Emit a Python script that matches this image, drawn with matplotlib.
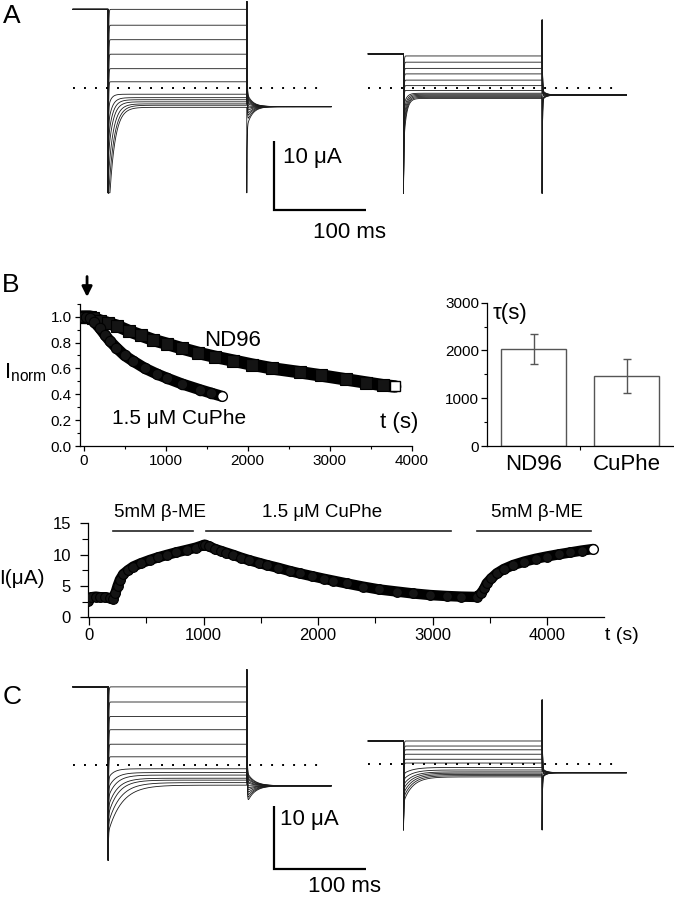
import numpy as np
import matplotlib
matplotlib.use('Agg')
import matplotlib.pyplot as plt
from matplotlib.ticker import FixedLocator, FormatStrFormatter

plt.rcParams['font.family'] = ['Liberation Sans', 'DejaVu Sans']
plt.rcParams['mathtext.fontset'] = 'custom'
plt.rcParams['mathtext.rm'] = 'Liberation Sans'
plt.rcParams['axes.linewidth'] = 0.9

# ---------------- data ----------------
# voltage-clamp protocol (ms)
T_ON, T_OFF, T_END = 38.5, 190.0, 282.0
DOT_END = 270.0

# Panel A left
A1_hold = 11.4
A1_levels = [11.4, 9.1, 7.0, 4.9, 2.8, 0.9, -0.9, -1.4, -1.7, -2.0, -2.3, -2.5, -2.8]
A1_slow_amp = [0, 0, 0, 0, 0, 0, -2, -4, -6, -8, -11, -14, -17]
A1_slow_tau = [1, 1, 1, 1, 1, 1, 3, 4, 4.5, 5, 5.5, 6, 6]
A1_tail_start = [-0.7, -1.0, -1.3, -1.6, -1.9, -2.2, -2.6, -3.0, -3.4, -3.9, -4.4, -5.0, -5.6]
A1_tail_end = -2.7

# Panel A right
A2_hold = 4.9
A2_levels = [4.6, 3.7, 2.8, 2.0, 1.1, 0.3, -0.4, -0.8, -0.95, -1.1, -1.25, -1.4, -1.55]
A2_slow_amp = [0, 0, 0, 0, 0, 0, 0, -2, -3, -4, -5, -6, -7]
A2_slow_tau = [1, 1, 1, 1, 1, 1, 1, 3, 3, 3, 3, 3, 3]
A2_tail_start = [-0.3, -0.45, -0.55, -0.65, -0.75, -0.85, -1.0, -1.15, -1.3, -1.45, -1.6, -1.7, -1.8]
A2_tail_end = -1.06

# Panel C left
C1_hold = 12.4
C1_levels = [12.4, 10.0, 7.7, 5.6, 3.3, 1.3, -0.6, -1.2, -1.6, -2.1, -2.4, -2.8, -3.2]
C1_slow_amp = [0, 0, 0, 0, 0, 0, -1.5, -2.5, -3.5, -4.5, -5.5, -6.5, -7.5]
C1_slow_tau = [1, 1, 1, 1, 1, 1, 6, 8, 9, 10, 11, 13, 15]
C1_tail_start = [-1.1, -1.4, -1.8, -2.1, -2.5, -2.8, -3.3, -3.7, -4.1, -4.6, -5.1, -5.6, -6.1]
C1_tail_end = -3.3

# Panel C right
C2_hold = 3.7
C2_levels = [3.7, 2.9, 2.3, 1.6, 0.8, 0.2, -0.5, -0.9, -1.2, -1.4, -1.6, -1.8, -2.0]
C2_slow_amp = [0, 0, 0, 0, 0, 0, -1, -1.5, -2, -2.5, -3, -3.5, -4]
C2_slow_tau = [1, 1, 1, 1, 1, 1, 10, 10, 10, 10, 10, 10, 10]
C2_tail_start = [-0.6, -0.75, -0.85, -1.0, -1.1, -1.2, -1.4, -1.55, -1.7, -1.85, -2.0, -2.1, -2.2]
C2_tail_end = -1.33

# Panel B: normalized current decay
nd96_t = [-20, 10, 40, 80, 120, 200, 300, 405, 550, 700, 850, 1015, 1200, 1400, 1600,
          1826, 2050, 2300, 2640, 2900, 3200, 3450, 3650, 3800]
nd96_i = [1.0, 1.0, 1.0, 1.0, 0.99, 0.97, 0.95, 0.93, 0.89, 0.855, 0.82, 0.79, 0.755, 0.72, 0.69,
          0.66, 0.63, 0.60, 0.57, 0.545, 0.515, 0.49, 0.47, 0.46]
cuphe_t = [-20, 30, 80, 130, 200, 260, 323, 400, 500, 608, 750, 900, 1015, 1200, 1420, 1550, 1685]
cuphe_i = [1.0, 1.0, 0.99, 0.96, 0.91, 0.86, 0.81, 0.76, 0.70, 0.655, 0.60, 0.555, 0.525, 0.48,
           0.435, 0.41, 0.385]

# Panel B: time constants
tau_labels = ['ND96', 'CuPhe']
tau_means = [2030, 1470]
tau_err = [305, 350]

# Panel B lower: current vs time
cur_t = [-5, 20, 60, 100, 140, 180, 212, 230, 250, 270, 300, 340, 387, 450, 532, 600, 678, 760,
         852, 930, 997, 1010, 1050, 1100, 1150, 1200, 1260, 1330, 1400, 1480, 1550, 1650, 1750,
         1840, 1950, 2050, 2130, 2250, 2390, 2530, 2690, 2830, 2980, 3120, 3250, 3383, 3420,
         3450, 3470, 3510, 3558, 3620, 3703, 3800, 3900, 3994, 4100, 4200, 4300, 4400]
cur_i = [2.6, 3.2, 3.3, 3.2, 3.2, 3.1, 3.0, 3.8, 5.0, 6.0, 6.9, 7.5, 8.1, 8.6, 9.15, 9.55, 9.95,
         10.35, 10.75, 11.1, 11.5, 11.6, 11.3, 10.9, 10.6, 10.3, 9.95, 9.5, 9.1, 8.7, 8.35, 7.9,
         7.4, 7.0, 6.55, 6.15, 5.85, 5.4, 4.9, 4.45, 4.1, 3.8, 3.55, 3.4, 3.3, 3.25, 3.8, 4.6,
         5.4, 6.2, 7.0, 7.7, 8.35, 8.9, 9.35, 9.7, 10.05, 10.35, 10.65, 10.9]
app_labels = ['5mM \u03b2-ME', '1.5 \u03bcM CuPhe', '5mM \u03b2-ME']
app_start = [212, 1021, 3383]
app_end = [910, 3156, 4378]

# ---------------- figure ----------------
W, H = 674, 899
fig = plt.figure(figsize=(W / 100, H / 100), dpi=100)


def box(x0, y0, x1, y1):
    return fig.add_axes([x0 / W, 1 - y1 / H, (x1 - x0) / W, (y1 - y0) / H])


def trace_axes(x0, y0, x1, y1, t0_px, zero_px, px_ms, px_ua):
    ax = box(x0, y0, x1, y1)
    ax.set_xlim((x0 - t0_px) / px_ms, (x1 - t0_px) / px_ms)
    ax.set_ylim((zero_px - y1) / px_ua, (zero_px - y0) / px_ua)
    ax.axis('off')
    ax.patch.set_visible(False)
    return ax


def draw_traces(ax, hold, levels, slow_amp, slow_tau, tail_start, tail_end, tail_tau,
                spike_on, spike_up, spike_down):
    t = np.arange(0, T_END + 0.05, 0.1)
    for L, B, tau, Q in zip(levels, slow_amp, slow_tau, tail_start):
        I = np.full_like(t, hold)
        m = (t >= T_ON) & (t < T_OFF)
        dt = t[m] - T_ON
        fast = min(0.0, spike_on - L - B)
        I[m] = np.clip(L + B * np.exp(-dt / tau) + fast * np.exp(-dt / 0.3), spike_on, None)
        m2 = t >= T_OFF
        dt2 = t[m2] - T_OFF
        sp = spike_up if L > tail_end else spike_down
        I[m2] = tail_end + (Q - tail_end) * np.exp(-dt2 / tail_tau) + (sp - Q) * np.exp(-dt2 / 0.3)
        ax.plot(t, I, color='#1a1a1a', lw=0.6, zorder=2)
    ax.plot([0, DOT_END], [0, 0], color='k', lw=1.4, linestyle=(0, (1, 4.66)),
            dash_capstyle='butt', zorder=3)


def scale_bar(ax, t, bottom, ua_text_xy, ms_text_xy):
    ax.plot([t, t, t + 100], [bottom + 10, bottom, bottom], color='k', lw=1.6,
            solid_joinstyle='miter', solid_capstyle='butt', clip_on=False)
    ax.text(ua_text_xy[0], ua_text_xy[1], '10 \u03bcA', fontsize=16, ha='left', va='center')
    ax.text(ms_text_xy[0], ms_text_xy[1], '100 ms', fontsize=16, ha='center', va='center')


def band(ax, x, y, marker, lw=7.5, ms=7):
    ax.plot(x, y, color='k', lw=lw, solid_capstyle='round', zorder=2)
    ax.plot(x[:-1], y[:-1], marker, ms=ms, mfc='#141414', mec='k', mew=0.8, zorder=3)
    ax.plot(x[-1:], y[-1:], marker, ms=7, mfc='white', mec='k', mew=1.0, zorder=4)


PX_MS = 0.915
# Panel A
axA1 = trace_axes(60, 0, 420, 250, 73, 88, PX_MS, 6.9)
draw_traces(axA1, A1_hold, A1_levels, A1_slow_amp, A1_slow_tau, A1_tail_start, A1_tail_end, 6,
            -15.2, 12.5, -15.2)
scale_bar(axA1, 220, -17.7, (229.5, -10.0), (302.7, -20.9))
axA2 = trace_axes(360, 0, 674, 250, 368.3, 87.7, PX_MS, 6.9)
draw_traces(axA2, A2_hold, A2_levels, A2_slow_amp, A2_slow_tau, A2_tail_start, A2_tail_end, 4,
            -15.3, 9.8, -15.3)

# Panel C
axC1 = trace_axes(60, 640, 420, 899, 73, 765, PX_MS, 6.3)
draw_traces(axC1, C1_hold, C1_levels, C1_slow_amp, C1_slow_tau, C1_tail_start, C1_tail_end, 8,
            -15.1, 15.1, -15.1)
scale_bar(axC1, 220, -16.56, (226, -8.7), (297, -19.3))
axC2 = trace_axes(360, 640, 674, 899, 368.3, 764.3, PX_MS, 6.3)
draw_traces(axC2, C2_hold, C2_levels, C2_slow_amp, C2_slow_tau, C2_tail_start, C2_tail_end, 4,
            -10.4, 10.2, -10.4)

# Panel B left: normalized decay
axB = box(80, 303.7, 412, 446)
band(axB, nd96_t, nd96_i, 's', lw=9, ms=8)
band(axB, cuphe_t, cuphe_i, 'o', lw=8, ms=7.5)
axB.set_xlim(-43, 4006)
axB.set_ylim(0, 1.1)
for s in ['top', 'right']:
    axB.spines[s].set_visible(False)
axB.xaxis.set_major_locator(FixedLocator([0, 1000, 2000, 3000, 4000]))
axB.xaxis.set_minor_locator(FixedLocator([500, 1500, 2500, 3500]))
axB.yaxis.set_major_locator(FixedLocator([0, 0.2, 0.4, 0.6, 0.8, 1.0]))
axB.yaxis.set_minor_locator(FixedLocator([0.1, 0.3, 0.5, 0.7, 0.9, 1.1]))
axB.yaxis.set_major_formatter(FormatStrFormatter('%.1f'))
axB.tick_params(which='major', direction='out', length=3.5, width=0.9, labelsize=11, pad=2.5)
axB.tick_params(which='minor', direction='out', length=2.5, width=0.8)
axB.text(1823, 0.815, 'ND96', fontsize=16, ha='center', va='center')
axB.text(1165, 0.21, '1.5 \u03bcM CuPhe', fontsize=15, ha='center', va='center')
axB.text(3848, 0.185, 't (s)', fontsize=16, ha='center', va='center')
axB.annotate('', xy=(43, 1.152), xytext=(43, 1.31),
             arrowprops=dict(arrowstyle='-|>', lw=2.0, color='k', mutation_scale=15,
                             shrinkA=0, shrinkB=0),
             annotation_clip=False)
fig.text(4 / W, 1 - 373 / H, r'$\mathregular{I_{norm}}$', fontsize=16, ha='left', va='center')

# Panel B right: tau bars
axT = box(487, 302.7, 673, 446)
axT.bar(range(len(tau_means)), tau_means, width=0.7, yerr=tau_err, color='white',
        edgecolor='#555555', linewidth=1.0, capsize=3,
        error_kw=dict(ecolor='#555555', elinewidth=1.0, capthick=1.0))
axT.set_xlim(-0.5, 1.5)
axT.set_ylim(0, 3000)
for s in ['top', 'right']:
    axT.spines[s].set_visible(False)
axT.set_xticks(range(len(tau_labels)))
axT.set_xticklabels(tau_labels, fontsize=16)
axT.xaxis.set_minor_locator(FixedLocator([0.5]))
axT.tick_params(axis='x', which='major', length=0, pad=6)
axT.tick_params(axis='x', which='minor', direction='out', length=3, width=0.8)
axT.yaxis.set_major_locator(FixedLocator([0, 1000, 2000, 3000]))
axT.yaxis.set_minor_locator(FixedLocator([500, 1500, 2500]))
axT.tick_params(axis='y', which='major', direction='out', length=4, width=0.9, labelsize=11, pad=1.5)
axT.tick_params(axis='y', which='minor', direction='out', length=2.5, width=0.8)
axT.text(-0.25, 2782, '\u03c4(s)', fontsize=16, ha='center', va='center')

# Panel B lower: current time course
axI = box(87.7, 523.3, 604.3, 617.3)
band(axI, cur_t, cur_i, 'o', lw=7.5, ms=7)
axI.set_xlim(-11, 4497)
axI.set_ylim(0, 15)
for s in ['top', 'right']:
    axI.spines[s].set_visible(False)
axI.xaxis.set_major_locator(FixedLocator([0, 1000, 2000, 3000, 4000]))
axI.xaxis.set_minor_locator(FixedLocator([500, 1500, 2500, 3500, 4500]))
axI.yaxis.set_major_locator(FixedLocator([0, 5, 10, 15]))
axI.yaxis.set_minor_locator(FixedLocator([2.5, 7.5, 12.5]))
axI.tick_params(which='major', direction='out', length=6, width=0.9, labelsize=12, pad=2)
axI.tick_params(which='minor', direction='out', length=4, width=0.8)
axI.tick_params(axis='y', which='major', pad=6)
app_text_t = [620, 2033, 3909]
for lab, a, b, tx in zip(app_labels, app_start, app_end, app_text_t):
    axI.plot([a, b], [13.8, 13.8], color='#222222', lw=1.2, zorder=1, clip_on=False)
    axI.text(tx, 16.66, lab, fontsize=13.5, ha='center', va='center')
fig.text(22 / W, 1 - 578 / H, 'I(\u03bcA)', fontsize=15, ha='center', va='center')
fig.text(622 / W, 1 - 636 / H, 't (s)', fontsize=14, ha='center', va='center')

# panel letters
fig.text(3 / W, 1 - 16 / H, 'A', fontsize=19, ha='left', va='center')
fig.text(2 / W, 1 - 285 / H, 'B', fontsize=19, ha='left', va='center')
fig.text(3 / W, 1 - 697 / H, 'C', fontsize=19, ha='left', va='center')

fig.savefig('out.png', dpi=100, facecolor='white')
